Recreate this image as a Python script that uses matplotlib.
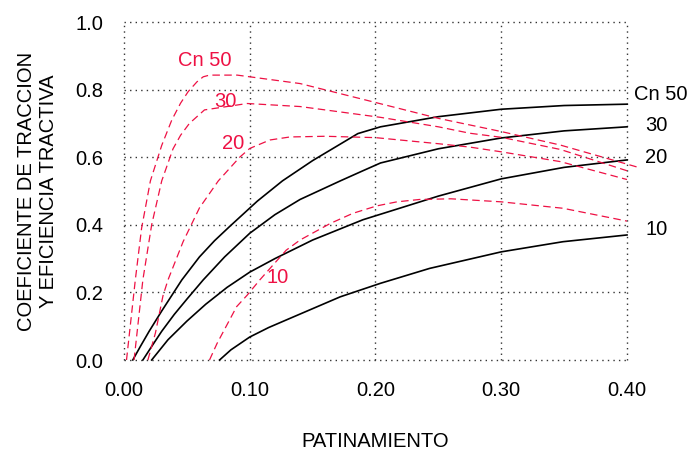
import matplotlib
matplotlib.use('Agg')
import matplotlib.pyplot as plt

plt.rcParams['font.family'] = ['Liberation Sans', 'DejaVu Sans']

# coeficiente de traccion (black, solid)
trac50_x = [0.007, 0.013, 0.02, 0.03, 0.046, 0.06, 0.072, 0.084, 0.106, 0.126, 0.15, 0.186, 0.204, 0.25, 0.30, 0.35, 0.40]
trac50_y = [0.0, 0.04, 0.085, 0.145, 0.237, 0.305, 0.353, 0.395, 0.47, 0.53, 0.59, 0.67, 0.69, 0.72, 0.742, 0.753, 0.757]
trac30_x = [0.015, 0.022, 0.03, 0.04, 0.05, 0.063, 0.08, 0.10, 0.12, 0.14, 0.172, 0.19, 0.204, 0.25, 0.30, 0.35, 0.40]
trac30_y = [0.0, 0.04, 0.085, 0.135, 0.18, 0.237, 0.305, 0.375, 0.43, 0.475, 0.53, 0.56, 0.583, 0.625, 0.657, 0.678, 0.69]
trac20_x = [0.022, 0.035, 0.05, 0.065, 0.082, 0.10, 0.12, 0.15, 0.19, 0.22, 0.25, 0.30, 0.35, 0.40]
trac20_y = [0.0, 0.06, 0.115, 0.165, 0.215, 0.26, 0.30, 0.355, 0.415, 0.45, 0.485, 0.536, 0.57, 0.592]
trac10_x = [0.076, 0.085, 0.10, 0.115, 0.13, 0.172, 0.204, 0.243, 0.30, 0.349, 0.40]
trac10_y = [0.0, 0.03, 0.068, 0.096, 0.12, 0.187, 0.227, 0.271, 0.32, 0.35, 0.37]

# eficiencia tractiva (red, dashed)
efi50_x = [0.002, 0.009, 0.014, 0.021, 0.03, 0.038, 0.045, 0.051, 0.058, 0.063, 0.068, 0.09, 0.10, 0.14, 0.20, 0.25, 0.30, 0.347, 0.409]
efi50_y = [0.0, 0.237, 0.39, 0.53, 0.635, 0.71, 0.76, 0.794, 0.823, 0.838, 0.843, 0.843, 0.838, 0.818, 0.762, 0.715, 0.676, 0.636, 0.57]
efi30_x = [0.008, 0.015, 0.022, 0.03, 0.039, 0.045, 0.052, 0.064, 0.098, 0.14, 0.204, 0.25, 0.275, 0.30, 0.347, 0.40]
efi30_y = [0.0, 0.237, 0.40, 0.53, 0.625, 0.665, 0.70, 0.74, 0.759, 0.75, 0.718, 0.69, 0.671, 0.659, 0.623, 0.56]
efi20_x = [0.019, 0.025, 0.031, 0.035, 0.047, 0.06, 0.075, 0.092, 0.10, 0.116, 0.132, 0.16, 0.20, 0.25, 0.275, 0.30, 0.347, 0.40]
efi20_y = [0.0, 0.08, 0.19, 0.237, 0.35, 0.45, 0.53, 0.60, 0.626, 0.651, 0.66, 0.662, 0.658, 0.64, 0.63, 0.616, 0.587, 0.534]
efi10_x = [0.068, 0.074, 0.0896, 0.098, 0.108, 0.129, 0.14, 0.164, 0.182, 0.201, 0.217, 0.235, 0.26, 0.30, 0.349, 0.40]
efi10_y = [0.0, 0.049, 0.158, 0.192, 0.237, 0.325, 0.355, 0.404, 0.434, 0.456, 0.468, 0.475, 0.477, 0.468, 0.449, 0.411]

x_ticks = [0.0, 0.1, 0.2, 0.3, 0.4]
x_labels = ['0.00', '0.10', '0.20', '0.30', '0.40']
y_ticks = [0.0, 0.2, 0.4, 0.6, 0.8, 1.0]
y_labels = ['0.0', '0.2', '0.4', '0.6', '0.8', '1.0']

red = '#EE1144'
fs = 14.5

fig = plt.figure(figsize=(6.9, 4.5), dpi=100)
ax = fig.add_axes([0.1797, 0.2, 0.729, 0.751])

for xs, ys in [(trac50_x, trac50_y), (trac30_x, trac30_y), (trac20_x, trac20_y), (trac10_x, trac10_y)]:
    ax.plot(xs, ys, color='black', lw=1.2, clip_on=False, zorder=3, solid_joinstyle='round')
for xs, ys in [(efi50_x, efi50_y), (efi30_x, efi30_y), (efi20_x, efi20_y), (efi10_x, efi10_y)]:
    ax.plot(xs, ys, color=red, lw=0.9, dashes=(6, 3.5), clip_on=False, zorder=3)

# curve labels
ax.text(0.0645, 0.886, 'Cn 50', color=red, fontsize=fs, ha='center', va='center')
ax.text(0.081, 0.766, '30', color=red, fontsize=fs, ha='center', va='center')
ax.text(0.0864, 0.641, '20', color=red, fontsize=fs, ha='center', va='center')
ax.text(0.1225, 0.243, '10', color=red, fontsize=fs, ha='center', va='center')
ax.text(0.4056, 0.787, 'Cn 50', color='black', fontsize=fs, ha='left', va='center')
ax.text(0.4147, 0.693, '30', color='black', fontsize=fs, ha='left', va='center')
ax.text(0.4147, 0.600, '20', color='black', fontsize=fs, ha='left', va='center')
ax.text(0.4147, 0.387, '10', color='black', fontsize=fs, ha='left', va='center')

ax.set_xlim(0, 0.4)
ax.set_ylim(0, 1.0)
ax.set_xticks(x_ticks)
ax.set_xticklabels(x_labels, fontsize=fs)
ax.set_yticks(y_ticks)
ax.set_yticklabels(y_labels, fontsize=fs)
ax.tick_params(length=0)
ax.tick_params(axis='x', pad=15)
ax.tick_params(axis='y', pad=15)
for s in ax.spines.values():
    s.set_visible(False)
ax.grid(True, color='#333333', linestyle=(0, (1, 3)), linewidth=1)
for gl in ax.get_xgridlines() + ax.get_ygridlines():
    gl.set_clip_on(False)

ax.set_xlabel('PATINAMIENTO', fontsize=fs, labelpad=23)
ax.set_ylabel('COEFICIENTE DE TRACCION\nY EFICIENCIA TRACTIVA', fontsize=fs, labelpad=12)

fig.savefig('out.png', dpi=100)
